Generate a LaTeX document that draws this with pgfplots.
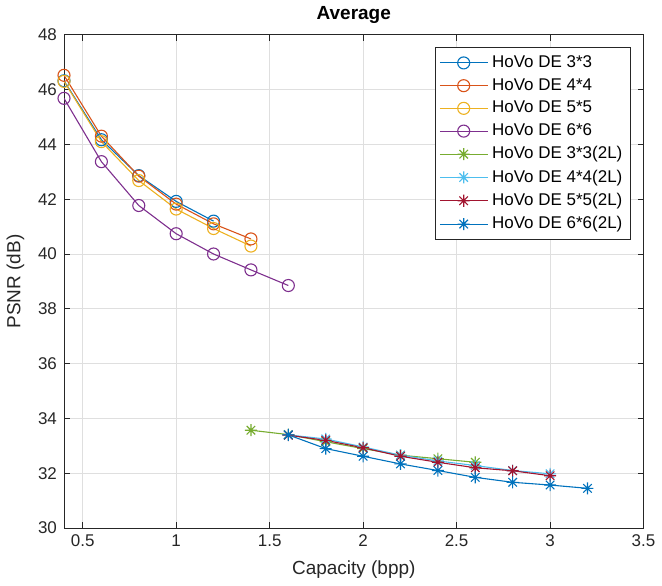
\documentclass[border=0pt]{standalone}
\usepackage{fontspec}
\setmainfont{Liberation Sans}
\usepackage{pgfplots}
\pgfplotsset{compat=1.18}

\definecolor{mblue}{rgb}{0,0.447,0.741}
\definecolor{morange}{rgb}{0.85,0.325,0.098}
\definecolor{myellow}{rgb}{0.929,0.694,0.125}
\definecolor{mpurple}{rgb}{0.494,0.184,0.556}
\definecolor{mgreen}{rgb}{0.466,0.674,0.188}
\definecolor{mcyan}{rgb}{0.301,0.745,0.933}
\definecolor{mred}{rgb}{0.635,0.078,0.184}
\definecolor{axgray}{rgb}{0.15,0.15,0.15}

% matlab style '*' marker: plus and cross on top of each other
\pgfdeclareplotmark{mstar}{%
  \pgfpathmoveto{\pgfqpoint{-\pgfplotmarksize}{0pt}}%
  \pgfpathlineto{\pgfqpoint{\pgfplotmarksize}{0pt}}%
  \pgfpathmoveto{\pgfqpoint{0pt}{-\pgfplotmarksize}}%
  \pgfpathlineto{\pgfqpoint{0pt}{\pgfplotmarksize}}%
  \pgfpathmoveto{\pgfqpoint{-0.707\pgfplotmarksize}{-0.707\pgfplotmarksize}}%
  \pgfpathlineto{\pgfqpoint{0.707\pgfplotmarksize}{0.707\pgfplotmarksize}}%
  \pgfpathmoveto{\pgfqpoint{-0.707\pgfplotmarksize}{0.707\pgfplotmarksize}}%
  \pgfpathlineto{\pgfqpoint{0.707\pgfplotmarksize}{-0.707\pgfplotmarksize}}%
  \pgfusepathqstroke}

\begin{document}
\begin{tikzpicture}
\begin{axis}[
    scale only axis,
    width=289bp,
    height=246bp,
    xmin=0.4, xmax=3.5,
    ymin=30, ymax=48,
    xtick={0.5,1,1.5,2,2.5,3,3.5},
    ytick={30,32,...,48},
    tick align=inside,
    tick style={axgray, line width=0.4pt},
    major tick length=3bp,
    axis line style={axgray, line width=0.5pt},
    grid=major,
    grid style={gray!25, line width=0.4pt},
    /pgf/number format/assume math mode=true,
    ticklabel style={font=\fontsize{8.5}{10}\selectfont, text=axgray},
    xlabel={Capacity (bpp)},
    ylabel={PSNR (dB)},
    label style={font=\fontsize{9.5}{11}\selectfont, text=axgray},
    title={\textbf{Average}},
    title style={font=\fontsize{9.5}{11}\selectfont, yshift=-4bp},
    legend style={at={(0.978,0.975)}, anchor=north east,
        font=\fontsize{8.5}{10}\selectfont, draw=axgray, line width=0.4pt,
        row sep=0bp, inner sep=2bp},
    legend cell align=left,
    legend image code/.code={%
      \draw[mark repeat=2, mark phase=2]
        plot coordinates {(0cm,0cm) (0.42cm,0cm) (0.84cm,0cm)};},
    every axis plot/.append style={line width=0.55pt},
    legend image post style={sharp plot},
]
\addplot[mblue, mark=o, mark size=3bp] coordinates {
  (0.4,46.32) (0.6,44.17) (0.8,42.86) (1.0,41.92) (1.2,41.20)};
\addlegendentry{HoVo DE 3*3}
\addplot[morange, mark=o, mark size=3bp] coordinates {
  (0.4,46.52) (0.6,44.30) (0.8,42.84) (1.0,41.82) (1.2,41.10) (1.4,40.55)};
\addlegendentry{HoVo DE 4*4}
\addplot[myellow, mark=o, mark size=3bp] coordinates {
  (0.4,46.30) (0.6,44.10) (0.8,42.68) (1.0,41.64) (1.2,40.93) (1.4,40.29)};
\addlegendentry{HoVo DE 5*5}
\addplot[mpurple, mark=o, mark size=3bp] coordinates {
  (0.4,45.68) (0.6,43.37) (0.8,41.77) (1.0,40.74) (1.2,40.00) (1.4,39.42) (1.6,38.85)};
\addlegendentry{HoVo DE 6*6}
\addplot[mgreen, mark=mstar, mark size=3bp] coordinates {
  (1.4,33.57) (1.6,33.41) (1.8,33.15) (2.0,32.90) (2.2,32.66) (2.4,32.53) (2.6,32.40)};
\addlegendentry{HoVo DE 3*3(2L)}
\addplot[mcyan, mark=mstar, mark size=3bp] coordinates {
  (1.6,33.40) (1.8,33.25) (2.0,32.96) (2.2,32.66) (2.4,32.45) (2.6,32.28) (2.8,32.10) (3.0,31.98)};
\addlegendentry{HoVo DE 4*4(2L)}
\addplot[mred, mark=mstar, mark size=3bp] coordinates {
  (1.6,33.39) (1.8,33.20) (2.0,32.93) (2.2,32.62) (2.4,32.40) (2.6,32.20) (2.8,32.09) (3.0,31.91)};
\addlegendentry{HoVo DE 5*5(2L)}
\addplot[mblue, mark=mstar, mark size=3bp] coordinates {
  (1.6,33.40) (1.8,32.90) (2.0,32.62) (2.2,32.34) (2.4,32.10) (2.6,31.85) (2.8,31.67) (3.0,31.57) (3.2,31.45)};
\addlegendentry{HoVo DE 6*6(2L)}
\end{axis}
\end{tikzpicture}
\end{document}
